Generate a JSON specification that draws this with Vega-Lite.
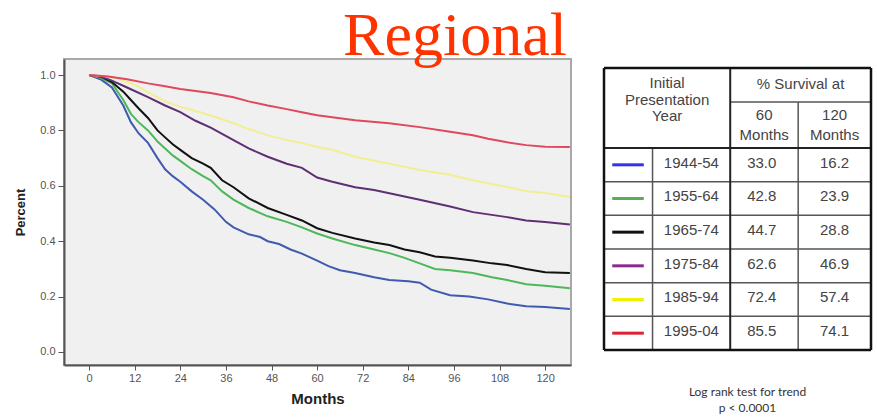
{
  "$schema": "https://vega.github.io/schema/vega-lite/v6.json",
  "background": "white",
  "padding": {"left": 13, "top": 5, "right": 0, "bottom": 0},
  "spacing": 30,
  "title": {"text": "Regional", "font": "Liberation Serif", "fontSize": 62, "fontWeight": "normal", "color": "#ff3300", "anchor": "middle", "dx": 12, "offset": -10},
  "resolve": {"scale": {"color": "independent", "strokeWidth": "independent"}},
  "datasets": {
    "curves": [
      {"period": "1944-54", "month": 0, "surv": 1.0},
      {"period": "1944-54", "month": 3, "surv": 0.985},
      {"period": "1944-54", "month": 6, "surv": 0.955},
      {"period": "1944-54", "month": 9, "surv": 0.89},
      {"period": "1944-54", "month": 11, "surv": 0.83},
      {"period": "1944-54", "month": 13, "surv": 0.79},
      {"period": "1944-54", "month": 15.5, "surv": 0.755},
      {"period": "1944-54", "month": 18, "surv": 0.7},
      {"period": "1944-54", "month": 20, "surv": 0.66},
      {"period": "1944-54", "month": 22, "surv": 0.635},
      {"period": "1944-54", "month": 24, "surv": 0.615},
      {"period": "1944-54", "month": 27, "surv": 0.58},
      {"period": "1944-54", "month": 30, "surv": 0.55},
      {"period": "1944-54", "month": 33, "surv": 0.515},
      {"period": "1944-54", "month": 36, "surv": 0.47},
      {"period": "1944-54", "month": 38, "surv": 0.45},
      {"period": "1944-54", "month": 42, "surv": 0.425},
      {"period": "1944-54", "month": 45, "surv": 0.415},
      {"period": "1944-54", "month": 47, "surv": 0.4},
      {"period": "1944-54", "month": 50, "surv": 0.39},
      {"period": "1944-54", "month": 53, "surv": 0.37},
      {"period": "1944-54", "month": 56, "surv": 0.355},
      {"period": "1944-54", "month": 60, "surv": 0.33},
      {"period": "1944-54", "month": 63, "surv": 0.31},
      {"period": "1944-54", "month": 66, "surv": 0.295},
      {"period": "1944-54", "month": 70, "surv": 0.285},
      {"period": "1944-54", "month": 75, "surv": 0.27},
      {"period": "1944-54", "month": 79, "surv": 0.26},
      {"period": "1944-54", "month": 84, "surv": 0.255},
      {"period": "1944-54", "month": 87, "surv": 0.25},
      {"period": "1944-54", "month": 90, "surv": 0.225},
      {"period": "1944-54", "month": 95, "surv": 0.205},
      {"period": "1944-54", "month": 100, "surv": 0.2},
      {"period": "1944-54", "month": 105, "surv": 0.19},
      {"period": "1944-54", "month": 110, "surv": 0.175},
      {"period": "1944-54", "month": 115, "surv": 0.165},
      {"period": "1944-54", "month": 120, "surv": 0.162},
      {"period": "1944-54", "month": 126.5, "surv": 0.155},
      {"period": "1955-64", "month": 0, "surv": 1.0},
      {"period": "1955-64", "month": 3, "surv": 0.99},
      {"period": "1955-64", "month": 6, "surv": 0.97},
      {"period": "1955-64", "month": 9, "surv": 0.91},
      {"period": "1955-64", "month": 11, "surv": 0.86},
      {"period": "1955-64", "month": 13, "surv": 0.83},
      {"period": "1955-64", "month": 15.5, "surv": 0.8},
      {"period": "1955-64", "month": 18, "surv": 0.76},
      {"period": "1955-64", "month": 20, "surv": 0.735},
      {"period": "1955-64", "month": 22, "surv": 0.71},
      {"period": "1955-64", "month": 24, "surv": 0.69},
      {"period": "1955-64", "month": 27, "surv": 0.66},
      {"period": "1955-64", "month": 30, "surv": 0.635},
      {"period": "1955-64", "month": 32, "surv": 0.62},
      {"period": "1955-64", "month": 35, "surv": 0.58},
      {"period": "1955-64", "month": 38, "surv": 0.55},
      {"period": "1955-64", "month": 42, "surv": 0.52},
      {"period": "1955-64", "month": 47, "surv": 0.49},
      {"period": "1955-64", "month": 52, "surv": 0.47},
      {"period": "1955-64", "month": 56, "surv": 0.45},
      {"period": "1955-64", "month": 60, "surv": 0.428},
      {"period": "1955-64", "month": 64, "surv": 0.41},
      {"period": "1955-64", "month": 70, "surv": 0.386},
      {"period": "1955-64", "month": 75, "surv": 0.37},
      {"period": "1955-64", "month": 79, "surv": 0.357},
      {"period": "1955-64", "month": 83, "surv": 0.34},
      {"period": "1955-64", "month": 87, "surv": 0.32},
      {"period": "1955-64", "month": 91, "surv": 0.3},
      {"period": "1955-64", "month": 95, "surv": 0.295},
      {"period": "1955-64", "month": 101, "surv": 0.285},
      {"period": "1955-64", "month": 106, "surv": 0.27},
      {"period": "1955-64", "month": 110, "surv": 0.26},
      {"period": "1955-64", "month": 115, "surv": 0.245},
      {"period": "1955-64", "month": 120, "surv": 0.239},
      {"period": "1955-64", "month": 126.5, "surv": 0.23},
      {"period": "1965-74", "month": 0, "surv": 1.0},
      {"period": "1965-74", "month": 3, "surv": 0.995},
      {"period": "1965-74", "month": 6, "surv": 0.975},
      {"period": "1965-74", "month": 9, "surv": 0.94},
      {"period": "1965-74", "month": 11, "surv": 0.91},
      {"period": "1965-74", "month": 13, "surv": 0.88},
      {"period": "1965-74", "month": 15.5, "surv": 0.845},
      {"period": "1965-74", "month": 18, "surv": 0.8},
      {"period": "1965-74", "month": 20, "surv": 0.775},
      {"period": "1965-74", "month": 22, "surv": 0.75},
      {"period": "1965-74", "month": 24, "surv": 0.73},
      {"period": "1965-74", "month": 27, "surv": 0.7},
      {"period": "1965-74", "month": 30, "surv": 0.68},
      {"period": "1965-74", "month": 32, "surv": 0.665},
      {"period": "1965-74", "month": 35, "surv": 0.62},
      {"period": "1965-74", "month": 38, "surv": 0.595},
      {"period": "1965-74", "month": 42, "surv": 0.555},
      {"period": "1965-74", "month": 47, "surv": 0.52},
      {"period": "1965-74", "month": 52, "surv": 0.495},
      {"period": "1965-74", "month": 56, "surv": 0.475},
      {"period": "1965-74", "month": 60, "surv": 0.447},
      {"period": "1965-74", "month": 64, "surv": 0.43},
      {"period": "1965-74", "month": 70, "surv": 0.41},
      {"period": "1965-74", "month": 75, "surv": 0.395},
      {"period": "1965-74", "month": 79, "surv": 0.386},
      {"period": "1965-74", "month": 83, "surv": 0.37},
      {"period": "1965-74", "month": 87, "surv": 0.36},
      {"period": "1965-74", "month": 91, "surv": 0.345},
      {"period": "1965-74", "month": 95, "surv": 0.34},
      {"period": "1965-74", "month": 101, "surv": 0.33},
      {"period": "1965-74", "month": 106, "surv": 0.32},
      {"period": "1965-74", "month": 110, "surv": 0.314},
      {"period": "1965-74", "month": 115, "surv": 0.3},
      {"period": "1965-74", "month": 120, "surv": 0.288},
      {"period": "1965-74", "month": 126.5, "surv": 0.285},
      {"period": "1975-84", "month": 0, "surv": 1.0},
      {"period": "1975-84", "month": 3, "surv": 0.995},
      {"period": "1975-84", "month": 6, "surv": 0.98},
      {"period": "1975-84", "month": 10, "surv": 0.955},
      {"period": "1975-84", "month": 15.5, "surv": 0.92},
      {"period": "1975-84", "month": 20, "surv": 0.89},
      {"period": "1975-84", "month": 24, "surv": 0.866},
      {"period": "1975-84", "month": 28, "surv": 0.835},
      {"period": "1975-84", "month": 32, "surv": 0.81},
      {"period": "1975-84", "month": 38, "surv": 0.765},
      {"period": "1975-84", "month": 42, "surv": 0.735},
      {"period": "1975-84", "month": 47, "surv": 0.705},
      {"period": "1975-84", "month": 52, "surv": 0.68},
      {"period": "1975-84", "month": 56, "surv": 0.665},
      {"period": "1975-84", "month": 60, "surv": 0.63},
      {"period": "1975-84", "month": 64, "surv": 0.615},
      {"period": "1975-84", "month": 70, "surv": 0.595},
      {"period": "1975-84", "month": 75, "surv": 0.585},
      {"period": "1975-84", "month": 79, "surv": 0.573},
      {"period": "1975-84", "month": 87, "surv": 0.55},
      {"period": "1975-84", "month": 95, "surv": 0.525},
      {"period": "1975-84", "month": 101, "surv": 0.505},
      {"period": "1975-84", "month": 110, "surv": 0.487},
      {"period": "1975-84", "month": 115, "surv": 0.475},
      {"period": "1975-84", "month": 120, "surv": 0.469},
      {"period": "1975-84", "month": 126.5, "surv": 0.46},
      {"period": "1985-94", "month": 0, "surv": 1.0},
      {"period": "1985-94", "month": 5, "surv": 0.995},
      {"period": "1985-94", "month": 8, "surv": 0.985},
      {"period": "1985-94", "month": 12, "surv": 0.965},
      {"period": "1985-94", "month": 16, "surv": 0.935},
      {"period": "1985-94", "month": 20, "surv": 0.905},
      {"period": "1985-94", "month": 24, "surv": 0.885},
      {"period": "1985-94", "month": 29.5, "surv": 0.865},
      {"period": "1985-94", "month": 34, "surv": 0.845},
      {"period": "1985-94", "month": 38, "surv": 0.826},
      {"period": "1985-94", "month": 42, "surv": 0.805},
      {"period": "1985-94", "month": 47, "surv": 0.783},
      {"period": "1985-94", "month": 52, "surv": 0.765},
      {"period": "1985-94", "month": 56, "surv": 0.755},
      {"period": "1985-94", "month": 60, "surv": 0.74},
      {"period": "1985-94", "month": 64, "surv": 0.73},
      {"period": "1985-94", "month": 70, "surv": 0.705},
      {"period": "1985-94", "month": 79, "surv": 0.68},
      {"period": "1985-94", "month": 87, "surv": 0.657},
      {"period": "1985-94", "month": 95, "surv": 0.64},
      {"period": "1985-94", "month": 101, "surv": 0.62},
      {"period": "1985-94", "month": 110, "surv": 0.596},
      {"period": "1985-94", "month": 115, "surv": 0.58},
      {"period": "1985-94", "month": 120, "surv": 0.574},
      {"period": "1985-94", "month": 126.5, "surv": 0.56},
      {"period": "1995-04", "month": 0, "surv": 1.0},
      {"period": "1995-04", "month": 5, "surv": 0.995},
      {"period": "1995-04", "month": 10, "surv": 0.985},
      {"period": "1995-04", "month": 15.5, "surv": 0.97},
      {"period": "1995-04", "month": 20, "surv": 0.96},
      {"period": "1995-04", "month": 24, "surv": 0.95},
      {"period": "1995-04", "month": 29.5, "surv": 0.94},
      {"period": "1995-04", "month": 32, "surv": 0.935},
      {"period": "1995-04", "month": 38, "surv": 0.92},
      {"period": "1995-04", "month": 42, "surv": 0.905},
      {"period": "1995-04", "month": 47, "surv": 0.89},
      {"period": "1995-04", "month": 52, "surv": 0.877},
      {"period": "1995-04", "month": 56, "surv": 0.866},
      {"period": "1995-04", "month": 60, "surv": 0.855},
      {"period": "1995-04", "month": 64, "surv": 0.848},
      {"period": "1995-04", "month": 70, "surv": 0.837},
      {"period": "1995-04", "month": 79, "surv": 0.826},
      {"period": "1995-04", "month": 87, "surv": 0.812},
      {"period": "1995-04", "month": 95, "surv": 0.795},
      {"period": "1995-04", "month": 101, "surv": 0.783},
      {"period": "1995-04", "month": 105, "surv": 0.77},
      {"period": "1995-04", "month": 110, "surv": 0.757},
      {"period": "1995-04", "month": 115, "surv": 0.747},
      {"period": "1995-04", "month": 120, "surv": 0.741},
      {"period": "1995-04", "month": 126.5, "surv": 0.74}
    ],
    "table": [
      {"period": "1944-54", "row": 1, "s60": "33.0", "s120": "16.2"},
      {"period": "1955-64", "row": 2, "s60": "42.8", "s120": "23.9"},
      {"period": "1965-74", "row": 3, "s60": "44.7", "s120": "28.8"},
      {"period": "1975-84", "row": 4, "s60": "62.6", "s120": "46.9"},
      {"period": "1985-94", "row": 5, "s60": "72.4", "s120": "57.4"},
      {"period": "1995-04", "row": 6, "s60": "85.5", "s120": "74.1"}
    ],
    "grid": [
      {"kind": "border", "x": 0, "x2": 5.5, "y": -1.876, "y2": -1.876},
      {"kind": "border", "x": 0, "x2": 5.5, "y": 6.5, "y2": 6.5},
      {"kind": "border", "x": 0, "x2": 0, "y": -1.876, "y2": 6.5},
      {"kind": "border", "x": 5.5, "x2": 5.5, "y": -1.876, "y2": 6.5},
      {"kind": "major", "x": 2.6, "x2": 2.6, "y": -1.876, "y2": 6.5},
      {"kind": "major", "x": 0, "x2": 5.5, "y": 0.5, "y2": 0.5},
      {"kind": "minor", "x": 2.6, "x2": 5.5, "y": -0.866, "y2": -0.866},
      {"kind": "minor", "x": 0, "x2": 5.5, "y": 1.5, "y2": 1.5},
      {"kind": "minor", "x": 0, "x2": 5.5, "y": 2.5, "y2": 2.5},
      {"kind": "minor", "x": 0, "x2": 5.5, "y": 3.5, "y2": 3.5},
      {"kind": "minor", "x": 0, "x2": 5.5, "y": 4.5, "y2": 4.5},
      {"kind": "minor", "x": 0, "x2": 5.5, "y": 5.5, "y2": 5.5},
      {"kind": "minor", "x": 1, "x2": 1, "y": 0.5, "y2": 6.5},
      {"kind": "minor", "x": 4.0, "x2": 4.0, "y": -0.866, "y2": 6.5}
    ]
  },
  "hconcat": [
    {
      "width": 507,
      "height": 306,
      "view": {"fill": "#f0f0f0", "stroke": "#a8a8a8", "strokeWidth": 2},
      "data": {"name": "curves"},
      "mark": {"type": "line", "interpolate": "linear", "clip": true},
      "encoding": {
        "x": {
          "field": "month", "type": "quantitative",
          "scale": {"domain": [-6.6, 126.8], "nice": false, "zero": false},
          "axis": {"values": [0, 12, 24, 36, 48, 60, 72, 84, 96, 108, 120], "title": "Months", "grid": false,
            "titleFont": "Liberation Sans", "titleFontSize": 15, "titleFontWeight": "bold", "titleColor": "#222", "titlePadding": 8,
            "labelFont": "Liberation Sans", "labelFontSize": 11, "labelColor": "#555", "labelPadding": 2,
            "tickColor": "#555", "tickSize": 5, "domainColor": "#555", "domainWidth": 2}
        },
        "y": {
          "field": "surv", "type": "quantitative",
          "scale": {"domain": [-0.047, 1.058], "nice": false, "zero": false},
          "axis": {"values": [0, 0.2, 0.4, 0.6, 0.8, 1.0], "format": ".1f", "title": "Percent", "grid": false,
            "titleFont": "Liberation Sans", "titleFontSize": 13, "titleFontWeight": "bold", "titleColor": "#222", "titlePadding": 12,
            "labelFont": "Liberation Sans", "labelFontSize": 11, "labelColor": "#555", "labelPadding": 3,
            "tickColor": "#555", "tickSize": 6, "domainColor": "#555", "domainWidth": 2}
        },
        "color": {
          "field": "period", "type": "nominal", "legend": null,
          "scale": {"domain": ["1944-54", "1955-64", "1965-74", "1975-84", "1985-94", "1995-04"],
            "range": ["#3f5aae", "#4cb85a", "#111111", "#5e2f72", "#f2ee94", "#e0485f"]}
        },
        "strokeWidth": {
          "field": "period", "type": "nominal", "legend": null,
          "scale": {"domain": ["1944-54", "1955-64", "1965-74", "1975-84", "1985-94", "1995-04"],
            "range": [2, 2, 2.5, 2, 4, 2]}
        }
      }
    },
    {
      "width": 267,
      "height": 295,
      "view": {"stroke": null},
      "title": {"text": ["Log rank test for trend", "p < 0.0001"], "orient": "bottom", "anchor": "middle", "dx": 10, "offset": 33,
        "font": "Lato", "fontSize": 12, "fontWeight": "normal", "color": "#333", "lineHeight": 16},
      "encoding": {
        "x": {"type": "quantitative", "scale": {"domain": [0, 5.5], "nice": false, "zero": false}, "axis": null},
        "y": {"type": "quantitative", "scale": {"domain": [-2.143, 6.619], "nice": false, "zero": false, "reverse": true}, "axis": null}
      },
      "layer": [
        {
          "data": {"name": "grid"},
          "transform": [{"filter": "datum.kind === 'minor'"}],
          "mark": {"type": "rule", "color": "#555", "strokeWidth": 1.5},
          "encoding": {"x": {"field": "x", "type": "quantitative"}, "x2": {"field": "x2"}, "y": {"field": "y", "type": "quantitative"}, "y2": {"field": "y2"}}
        },
        {
          "data": {"name": "grid"},
          "transform": [{"filter": "datum.kind === 'major'"}],
          "mark": {"type": "rule", "color": "#222", "strokeWidth": 2},
          "encoding": {"x": {"field": "x", "type": "quantitative"}, "x2": {"field": "x2"}, "y": {"field": "y", "type": "quantitative"}, "y2": {"field": "y2"}}
        },
        {
          "data": {"name": "grid"},
          "transform": [{"filter": "datum.kind === 'border'"}],
          "mark": {"type": "rule", "color": "#111", "strokeWidth": 2.5},
          "encoding": {"x": {"field": "x", "type": "quantitative"}, "x2": {"field": "x2"}, "y": {"field": "y", "type": "quantitative"}, "y2": {"field": "y2"}}
        },
        {
          "data": {"name": "table"},
          "mark": {"type": "rule", "strokeWidth": 3},
          "encoding": {
            "x": {"datum": 0.17}, "x2": {"datum": 0.82},
            "y": {"field": "row", "type": "quantitative"}, "y2": {"field": "row"},
            "color": {"field": "period", "type": "nominal", "legend": null,
              "scale": {"domain": ["1944-54", "1955-64", "1965-74", "1975-84", "1985-94", "1995-04"],
                "range": ["#3333ee", "#55b055", "#111111", "#8a2a8a", "#f0f000", "#dd2233"]}}
          }
        },
        {
          "data": {"name": "table"},
          "mark": {"type": "text", "font": "Liberation Sans", "fontSize": 15, "color": "#444", "align": "center", "baseline": "middle", "dy": -2},
          "encoding": {"x": {"datum": 1.8}, "y": {"field": "row", "type": "quantitative"}, "text": {"field": "period"}}
        },
        {
          "data": {"name": "table"},
          "mark": {"type": "text", "font": "Liberation Sans", "fontSize": 15, "color": "#444", "align": "center", "baseline": "middle", "dy": -2},
          "encoding": {"x": {"datum": 3.25}, "y": {"field": "row", "type": "quantitative"}, "text": {"field": "s60"}}
        },
        {
          "data": {"name": "table"},
          "mark": {"type": "text", "font": "Liberation Sans", "fontSize": 15, "color": "#444", "align": "center", "baseline": "middle", "dy": -2},
          "encoding": {"x": {"datum": 4.75}, "y": {"field": "row", "type": "quantitative"}, "text": {"field": "s120"}}
        },
        {
          "data": {"values": [{}]},
          "mark": {"type": "text", "font": "Liberation Sans", "fontSize": 15, "color": "#444", "align": "center", "baseline": "middle", "lineHeight": 16.5,
            "text": ["Initial", "Presentation", "Year"]},
          "encoding": {"x": {"datum": 1.3}, "y": {"datum": -1.43}}
        },
        {
          "data": {"values": [{}]},
          "mark": {"type": "text", "font": "Liberation Sans", "fontSize": 15, "color": "#444", "align": "center", "baseline": "middle",
            "text": "% Survival at"},
          "encoding": {"x": {"datum": 4.05}, "y": {"datum": -1.4}}
        },
        {
          "data": {"values": [{}]},
          "mark": {"type": "text", "font": "Liberation Sans", "fontSize": 15, "color": "#444", "align": "center", "baseline": "middle", "lineHeight": 20,
            "text": ["60", "Months"]},
          "encoding": {"x": {"datum": 3.3}, "y": {"datum": -0.48}}
        },
        {
          "data": {"values": [{}]},
          "mark": {"type": "text", "font": "Liberation Sans", "fontSize": 15, "color": "#444", "align": "center", "baseline": "middle", "lineHeight": 20,
            "text": ["120", "Months"]},
          "encoding": {"x": {"datum": 4.75}, "y": {"datum": -0.48}}
        }
      ]
    }
  ]
}
